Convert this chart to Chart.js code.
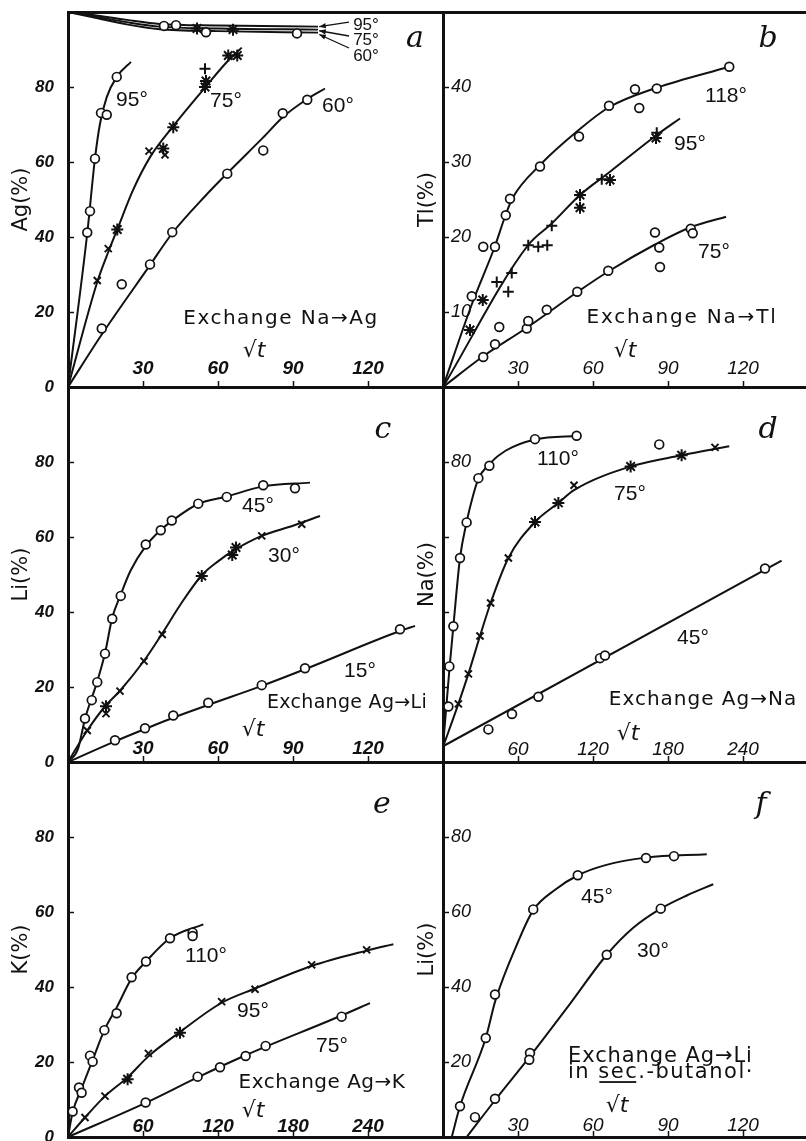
<!DOCTYPE html>
<html>
<head>
<meta charset="utf-8">
<script src="https://cdn.jsdelivr.net/npm/chart.js@4.4.1/dist/chart.umd.min.js"></script>
<style>
  html, body { margin: 0; padding: 0; background: #fff; width: 806px; height: 1141px; overflow: hidden; position: relative; }
  canvas { position: absolute; }
</style>
</head>
<body>
<script>
// ---------- panel a : exchange Na -> Ag, Ag (%) against sqrt(t) ----------
const a95_fitT = [0, 7.7, 10.8, 12.8, 15.5, 19.5, 25.2];
const a95_fitY = [0, 41, 61, 70.2, 77.3, 82.7, 86.7];
const a95_t = [7.7, 8.8, 10.8, 13.2, 15.5, 19.5];
const a95_y = [41.2, 46.9, 60.9, 73.1, 72.6, 82.7];

const a75_fitT = [0, 11.7, 16.1, 19.7, 26, 33, 42, 55, 64, 69.5];
const a75_fitY = [0, 28, 36, 42, 52.5, 61.5, 69.5, 80, 87, 90.5];
const a75_t = [11.7, 16.1, 19.7, 32.4, 38.1, 38.8, 42.1, 54.8, 55.2, 54.8, 64.1, 67.7];
const a75_y = [28.4, 36.9, 42, 62.9, 63.6, 61.9, 69.3, 80, 81.6, 84.9, 88.4, 88.4];

const a60_fitT = [0, 13.5, 32.8, 41.7, 55, 63.7, 78, 86, 95.7, 102.8];
const a60_fitY = [0, 14, 32.5, 41, 51, 57, 66.5, 72, 76.8, 79.6];
const a60_t = [13.5, 21.5, 32.8, 41.7, 63.7, 78.1, 85.9, 95.7];
const a60_y = [15.6, 27.4, 32.7, 41.3, 56.9, 63.1, 73, 76.6];

// the three curves running just under 100 %
const aTop_fitT = [0, 10, 23.5, 36.8, 60, 100];
const aTop95_fitY = [100, 99.2, 97.9, 96.8, 96.4, 96.1];
const aTop75_fitY = [100, 98.9, 97.3, 96.1, 95.6, 95.3];
const aTop60_fitY = [100, 98.6, 96.7, 95.4, 94.9, 94.5];
const aTop_t = [38.4, 43.2, 51.6, 55.2, 66, 91.6];
const aTop_y = [96.3, 96.5, 95.6, 94.6, 95.3, 94.3];

// ---------- panel b : exchange Na -> Tl, Tl (%) ----------
const b118_fitT = [0, 11.5, 20.8, 25.1, 28, 38.8, 54.4, 66.4, 85.5, 114.5];
const b118_fitY = [0, 11, 18.8, 23, 25.3, 29.6, 34.3, 37.3, 39.9, 42.7];
const b118_t = [11.5, 16.1, 20.8, 25.1, 26.8, 38.8, 54.4, 66.4, 76.8, 78.5, 85.5, 114.5];
const b118_y = [12.1, 18.7, 18.7, 22.9, 25.1, 29.4, 33.4, 37.5, 39.7, 37.2, 39.8, 42.7];

const b95_fitT = [0, 34, 43.5, 54.8, 66.8, 85.5, 94.8];
const b95_fitY = [0, 18.9, 21.8, 25.6, 28.7, 33.6, 35.8];
const b95_t = [10.8, 15.9, 21.5, 26.1, 27.5, 34.1, 38.1, 41.7, 43.5, 54.8, 54.8, 63.5, 66.8, 85.5, 85.2];
const b95_y = [7.6, 11.6, 14.0, 12.7, 15.2, 18.9, 18.7, 18.9, 21.5, 25.6, 23.9, 27.7, 27.6, 33.9, 33.2];

const b75_fitT = [0, 16.1, 33.5, 53.9, 66.1, 84.8, 99, 113.2];
const b75_fitY = [0, 4.1, 7.9, 12.7, 15.4, 19, 21.3, 22.7];
const b75_t = [16.1, 20.8, 22.5, 33.5, 34.1, 41.5, 53.7, 66.1, 84.8, 86.5, 86.8, 99.1, 99.9];
const b75_y = [4.0, 5.7, 8.0, 7.8, 8.8, 10.3, 12.7, 15.5, 20.6, 18.6, 16.0, 21.1, 20.5];

// ---------- panel c : exchange Ag -> Li, Li (%) ----------
const c45_fitT = [0, 4, 6.8, 11.7, 14.8, 17.7, 21, 25, 31, 37, 42, 52, 63.5, 78, 96.8];
const c45_fitY = [0, 3.5, 11.5, 21.5, 29, 38.5, 44.5, 51, 57.5, 61.8, 64.5, 68.8, 70.8, 73.5, 74.5];
const c45_t = [6.8, 9.5, 11.7, 14.8, 17.7, 21.1, 31.1, 37.1, 41.5, 52.1, 63.5, 78.1, 90.8];
const c45_y = [11.6, 16.5, 21.3, 28.9, 38.2, 44.3, 58, 61.8, 64.4, 68.9, 70.7, 73.8, 73];

const c30_fitT = [0, 7.7, 15, 20.8, 30.4, 37.7, 45, 53.5, 60, 66, 77.5, 90, 100.8];
const c30_fitY = [0, 8.4, 15, 19, 27, 34.3, 42, 49.8, 53.5, 56.3, 60.3, 63, 65.6];
const c30_t = [7.7, 15.2, 15.2, 20.8, 30.4, 37.7, 53.5, 65.7, 67.2, 77.5, 93.5];
const c30_y = [8.4, 14.9, 12.9, 18.9, 26.9, 34, 49.6, 55.2, 57.2, 60.3, 63.4];

const c15_fitT = [0, 18.8, 30.8, 42, 56, 77.5, 95, 133, 138.8];
const c15_fitY = [0, 5.5, 8.8, 11.8, 15.2, 20.3, 24.8, 35, 36.3];
const c15_t = [18.8, 30.8, 42.1, 56.1, 77.5, 94.8, 132.8];
const c15_y = [5.8, 9.0, 12.4, 15.8, 20.5, 25.0, 35.4];

// ---------- panel d : exchange Ag -> Na, Na (%) ----------
const d110_fitT = [0, 5.3, 8.3, 13.6, 18.9, 24, 28.3, 37.1, 50, 73.6, 109.6];
const d110_fitY = [4, 25.4, 36.2, 54.4, 64, 71, 75.5, 79.5, 83, 86, 87];
const d110_t = [4.3, 5.1, 8.3, 13.6, 18.9, 28.3, 37.1, 73.6, 106.9, 173];
const d110_y = [14.8, 25.5, 36.2, 54.4, 63.9, 75.7, 79, 86.1, 87, 84.7];

const d75_fitT = [0, 12.3, 20.3, 29.6, 38.1, 52.3, 73.6, 92.3, 104.8, 150.1, 190.9, 229];
const d75_fitY = [4, 15.5, 23.5, 33.6, 42.4, 54.4, 64, 69.1, 72.5, 78.8, 81.8, 84.2];
const d75_t = [12.3, 20.3, 29.6, 38.1, 52.3, 73.6, 92.3, 104.8, 150.1, 190.9, 217.6];
const d75_y = [15.5, 23.5, 33.6, 42.4, 54.4, 64, 69.1, 73.8, 78.8, 81.8, 83.9];

const d45_fitT = [0, 270.9];
const d45_fitY = [4.2, 53.7];
const d45_t = [36.3, 55.2, 76.3, 125.6, 129.6, 257.6];
const d45_y = [8.7, 12.8, 17.4, 27.7, 28.4, 51.6];

// ---------- panel e : exchange Ag -> K, K (%) ----------
const e110_fitT = [0, 3.7, 10.9, 19.7, 29.1, 38.9, 50.9, 62.4, 81.6, 108.3];
const e110_fitY = [0, 6.6, 13, 20.5, 28.5, 34.5, 42.3, 46.8, 53, 56.7];
const e110_t = [3.7, 8.8, 10.9, 17.6, 19.7, 29.1, 38.9, 50.9, 62.4, 81.6, 99.7, 99.7];
const e110_y = [6.8, 13.2, 11.8, 21.7, 20.1, 28.5, 33.0, 42.6, 46.8, 53.0, 54.5, 53.6];

const e95_fitT = [0, 13.6, 29.6, 47.7, 64.3, 89.6, 122.9, 149.6, 194.9, 238.9, 260.3];
const e95_fitY = [0, 5.2, 10.9, 15.9, 21.5, 28, 35.8, 39.6, 45.6, 49.7, 51.4];
const e95_t = [13.6, 29.6, 47.7, 64.3, 89.6, 122.9, 149.6, 194.9, 238.9];
const e95_y = [5.2, 10.9, 15.4, 22.3, 27.8, 36.1, 39.4, 45.9, 49.9];

const e75_fitT = [0, 62.1, 103.7, 142.1, 218.9, 241.6];
const e75_fitY = [0, 9.1, 15.9, 21.8, 32.4, 35.7];
const e75_t = [62.1, 103.7, 121.6, 142.1, 158.1, 218.9];
const e75_y = [9.2, 16.1, 18.6, 21.6, 24.3, 32.1];

// ---------- panel f : exchange Ag -> Li in sec.-butanol, Li (%) ----------
const f45_fitT = [3.5, 6.8, 17.1, 21, 30, 36.1, 45, 54, 65, 81.2, 105.5];
const f45_fitY = [0, 8.2, 26.4, 36.5, 52, 60.5, 66, 69.8, 72.5, 74.5, 75.4];
const f45_t = [6.8, 17.1, 20.8, 36.1, 53.9, 81.2, 92.4];
const f45_y = [8.2, 26.4, 38, 60.7, 69.8, 74.4, 74.9];

const f30_fitT = [9.5, 20.8, 34.8, 50.8, 65.5, 76.1, 87.1, 97.5, 108.1];
const f30_fitY = [0, 9.8, 21.5, 35.5, 48.6, 55.8, 60.9, 64.4, 67.4];
const f30_t = [12.8, 20.8, 34.8, 34.5, 65.5, 87.1];
const f30_y = [5.3, 10.2, 22.4, 20.6, 48.6, 60.9];

// ---------- drawing ----------
// every panel gets its own full-size canvas, shifted by OFF so that the
// library's label padding never pushes the plot area off its frame
const OFF = 60;
const W = 806 + 2 * OFF + 20, H = 1141 + 2 * OFF, XH = 20;
const INK = '#111';
// marker code -> [pointStyle, radius]
const SHAPE = { o: ['circle', 4.4], x: ['crossRot', 5], '+': ['cross', 5.5], '*': ['star', 6] };

const F_DEG = '21px "Liberation Sans"';
const F_DEG_S = '17px "Liberation Sans"';
const F_ROOT = 'italic 22px "DejaVu Sans"';
const F_LETTER = 'italic 30px "DejaVu Serif"';
const exch = (px) => px + 'px "DejaVu Sans"';

function pts(xs, ys) { return xs.map((x, i) => ({ x: x, y: ys[i] })); }

function series(fitT, fitY, t, y, marks) {
  return { fitT, fitY, t, y, marks };
}

function notesPlugin(notes) {
  return {
    id: 'notes',
    afterDatasetsDraw(chart) {
      const ctx = chart.ctx, sx = chart.scales.x, sy = chart.scales.y;
      ctx.save();
      ctx.fillStyle = INK; ctx.strokeStyle = INK;
      (notes.arrows || []).forEach(a => {
        const x1 = sx.getPixelForValue(a[0]), y1 = sy.getPixelForValue(a[1]);
        const x2 = sx.getPixelForValue(a[2]), y2 = sy.getPixelForValue(a[3]);
        ctx.lineWidth = 1.3;
        ctx.beginPath(); ctx.moveTo(x1, y1); ctx.lineTo(x2, y2); ctx.stroke();
        const ang = Math.atan2(y2 - y1, x2 - x1), L = 7, S = 0.38;
        ctx.beginPath();
        ctx.moveTo(x2, y2);
        ctx.lineTo(x2 - L * Math.cos(ang - S), y2 - L * Math.sin(ang - S));
        ctx.lineTo(x2 - L * Math.cos(ang + S), y2 - L * Math.sin(ang + S));
        ctx.closePath(); ctx.fill();
      });
      (notes.texts || []).forEach(n => {
        ctx.font = n.f;
        ctx.letterSpacing = (n.ls || 0) + 'px';
        ctx.textBaseline = 'alphabetic';
        let x = sx.getPixelForValue(n.t);
        const y = sy.getPixelForValue(n.v);
        if (n.parts) {
          ctx.textAlign = 'left';
          n.parts.forEach(p => {
            ctx.fillText(p[0], x, y);
            const w = ctx.measureText(p[0]).width;
            if (p[1]) ctx.fillRect(x + 1, y + 3, w - 3, 1.8);
            x += w;
          });
        } else {
          ctx.textAlign = n.align || 'center';
          ctx.fillText(n.s, x, y);
        }
      });
      ctx.letterSpacing = '0px';
      ctx.restore();
    }
  };
}

function makePanel(p) {
  const c = document.createElement('canvas');
  c.width = W; c.height = H;
  c.style.width = W + 'px'; c.style.height = H + 'px';
  c.style.left = (-OFF) + 'px'; c.style.top = (-OFF) + 'px';
  document.body.appendChild(c);

  const inner = p.inner;              // tick labels inside the frame (right-hand panels)
  const yW = inner ? 43 : 68;
  const box = p.box;
  const datasets = [];
  p.series.forEach(s => {
    if (s.fitT) {
      datasets.push({
        data: pts(s.fitT, s.fitY), showLine: true, pointRadius: 0, pointHoverRadius: 0,
        borderColor: INK, borderWidth: 2, cubicInterpolationMode: 'monotone', fill: false, order: 1
      });
    }
    const marks = (s.marks || 'o'.repeat(s.t.length)).split('');
    datasets.push({
      data: pts(s.t, s.y), showLine: false,
      pointStyle: marks.map(m => SHAPE[m][0]),
      pointRadius: marks.map(m => SHAPE[m][1]),
      pointBackgroundColor: '#fff', pointBorderColor: INK,
      pointBorderWidth: marks.map(m => m === 'o' ? 1.7 : 2),
      order: 0
    });
  });

  const tickFontX = { family: 'Liberation Sans', size: 19, style: 'italic', weight: inner ? 'normal' : 'bold' };
  const tickFontY = { family: 'Liberation Sans', size: inner ? 18 : 17, style: 'italic', weight: inner ? 'normal' : 'bold' };
  const scales = {
    x: {
      type: 'linear', position: 'bottom', min: 0, max: p.xMax,
      afterFit(s) { s.height = XH; },
      border: { display: true, color: INK, width: 3 },
      grid: { display: true, drawOnChartArea: false, drawTicks: true, tickLength: -6, tickWidth: 1.5, color: INK },
      ticks: {
        // mirrored: the labels sit just above the axis, inside the frame
        stepSize: p.xStep, autoSkip: false, maxRotation: 0, minRotation: 0, mirror: true,
        padding: p.xPad, color: INK, font: tickFontX,
        callback: v => p.xLabels.includes(v) ? String(v) : ''
      }
    },
    y: {
      type: 'linear', position: 'left', min: 0, max: p.yMax,
      afterFit(s) { s.width = yW; },
      border: { display: true, color: INK, width: 3 },
      grid: { display: true, drawOnChartArea: false, drawTicks: true, tickLength: -6, tickWidth: 1.5, color: INK },
      ticks: {
        stepSize: p.yStep, autoSkip: false, mirror: inner, padding: inner ? 8 : 20,
        color: INK, font: tickFontY,
        callback: v => p.yLabels.includes(v) ? String(v) : ''
      },
      title: { display: true, text: p.yTitle, color: INK, font: { family: 'DejaVu Sans', size: 21 }, padding: inner ? 15 : 9 }
    }
  };
  if (p.topRule) {
    scales.xt = {
      type: 'linear', position: 'top', min: 0, max: p.xMax,
      afterFit(s) { s.height = 0; },
      border: { display: true, color: INK, width: 3 },
      grid: { display: false }, ticks: { display: false }
    };
  }

  new Chart(c, {
    type: 'scatter',
    data: { datasets },
    options: {
      responsive: false, animation: false, devicePixelRatio: 1,
      events: [],
      layout: {
        padding: {
          left: box.l + OFF - yW,
          top: box.t + OFF,
          right: W - (box.r + OFF),
          bottom: H - (box.b + OFF) - XH
        }
      },
      plugins: { legend: { display: false }, tooltip: { enabled: false } },
      scales
    },
    plugins: [notesPlugin(p.notes)]
  });
}

const PANELS = [
  { // a
    box: { l: 68, t: 12, r: 443, b: 387 }, xMax: 150, xStep: 30, xLabels: [30, 60, 90, 120], xPad: 6.5,
    yMax: 100, yStep: 20, yLabels: [0, 20, 40, 60, 80], yTitle: 'Ag(%)', topRule: true,
    series: [
      series(a95_fitT, a95_fitY, a95_t, a95_y),
      series(a75_fitT, a75_fitY, a75_t, a75_y, 'xx*x*x***+**'),
      series(a60_fitT, a60_fitY, a60_t, a60_y),
      series(aTop_fitT, aTop95_fitY, [], []),
      series(aTop_fitT, aTop75_fitY, [], []),
      series(aTop_fitT, aTop60_fitY, aTop_t, aTop_y, 'oo*o*o')
    ],
    notes: {
      texts: [
        { t: 25.6, v: 74.9, s: '95°', f: F_DEG },
        { t: 63.2, v: 74.7, s: '75°', f: F_DEG },
        { t: 108, v: 73.4, s: '60°', f: F_DEG },
        { t: 119.2, v: 95.2, s: '95°', f: F_DEG_S },
        { t: 119.2, v: 91.2, s: '75°', f: F_DEG_S },
        { t: 119.2, v: 86.9, s: '60°', f: F_DEG_S },
        { t: 138.8, v: 90.7, s: 'a', f: F_LETTER },
        { t: 85.2, v: 16.8, s: 'Exchange Na→Ag', f: exch(20), ls: 1.5 },
        { t: 74.4, v: 8.1, s: '√t', f: F_ROOT }
      ],
      arrows: [[112.4, 97.3, 100.5, 96.1], [112.4, 93.6, 100.5, 95.0], [112.4, 90.4, 100.5, 94.0]]
    }
  },
  { // b
    box: { l: 443, t: 12, r: 818, b: 387 }, inner: true, xMax: 150, xStep: 30, xLabels: [30, 60, 90, 120], xPad: 6.5,
    yMax: 50, yStep: 10, yLabels: [10, 20, 30, 40], yTitle: 'Tl(%)', topRule: true,
    series: [
      series(b118_fitT, b118_fitY, b118_t, b118_y),
      series(b95_fitT, b95_fitY, b95_t, b95_y, '**+++++++**+*+*'),
      series(b75_fitT, b75_fitY, b75_t, b75_y)
    ],
    notes: {
      texts: [
        { t: 113.2, v: 38.0, s: '118°', f: F_DEG },
        { t: 98.8, v: 31.6, s: '95°', f: F_DEG },
        { t: 108.4, v: 17.2, s: '75°', f: F_DEG },
        { t: 130, v: 45.4, s: 'b', f: F_LETTER },
        { t: 95.6, v: 8.5, s: 'Exchange Na→Tl', f: exch(20), ls: 1.8 },
        { t: 72.8, v: 4.0, s: '√t', f: F_ROOT }
      ]
    }
  },
  { // c
    box: { l: 68, t: 387, r: 443, b: 762 }, xMax: 150, xStep: 30, xLabels: [30, 60, 90, 120], xPad: 1.5,
    yMax: 100, yStep: 20, yLabels: [0, 20, 40, 60, 80], yTitle: 'Li(%)',
    series: [
      series(c45_fitT, c45_fitY, c45_t, c45_y),
      series(c30_fitT, c30_fitY, c30_t, c30_y, 'x*xxxx***xx'),
      series(c15_fitT, c15_fitY, c15_t, c15_y)
    ],
    notes: {
      texts: [
        { t: 76, v: 66.7, s: '45°', f: F_DEG },
        { t: 86.4, v: 53.4, s: '30°', f: F_DEG },
        { t: 116.8, v: 22.7, s: '15°', f: F_DEG },
        { t: 126, v: 86.3, s: 'c', f: F_LETTER },
        { t: 111.6, v: 14.3, s: 'Exchange Ag→Li', f: exch(19), ls: 0.3 },
        { t: 74, v: 6.9, s: '√t', f: F_ROOT }
      ]
    }
  },
  { // d
    box: { l: 443, t: 387, r: 818, b: 762 }, inner: true, xMax: 300, xStep: 60, xLabels: [60, 120, 180, 240], xPad: 0.5,
    yMax: 100, yStep: 20, yLabels: [80], yTitle: 'Na(%)',
    series: [
      series(d110_fitT, d110_fitY, d110_t, d110_y),
      series(d75_fitT, d75_fitY, d75_t, d75_y, 'xxxxx**x**x'),
      series(d45_fitT, d45_fitY, d45_t, d45_y)
    ],
    notes: {
      texts: [
        { t: 92, v: 79.2, s: '110°', f: F_DEG },
        { t: 149.6, v: 69.9, s: '75°', f: F_DEG },
        { t: 200, v: 31.6, s: '45°', f: F_DEG },
        { t: 260, v: 86.3, s: 'd', f: F_LETTER },
        { t: 208, v: 15.2, s: 'Exchange Ag→Na', f: exch(20), ls: 1 },
        { t: 148, v: 5.9, s: '√t', f: F_ROOT }
      ]
    }
  },
  { // e
    box: { l: 68, t: 762, r: 443, b: 1137 }, xMax: 300, xStep: 60, xLabels: [60, 120, 180, 240], xPad: -1.5,
    yMax: 100, yStep: 20, yLabels: [0, 20, 40, 60, 80], yTitle: 'K(%)',
    series: [
      series(e110_fitT, e110_fitY, e110_t, e110_y),
      series(e95_fitT, e95_fitY, e95_t, e95_y, 'xx*x*xxxx'),
      series(e75_fitT, e75_fitY, e75_t, e75_y)
    ],
    notes: {
      texts: [
        { t: 110.4, v: 46.7, s: '110°', f: F_DEG },
        { t: 148, v: 32.1, s: '95°', f: F_DEG },
        { t: 211.2, v: 22.7, s: '75°', f: F_DEG },
        { t: 251.2, v: 86.3, s: 'e', f: F_LETTER },
        { t: 203.2, v: 13, s: 'Exchange Ag→K', f: exch(20), ls: 0.5 },
        { t: 148, v: 5.4, s: '√t', f: F_ROOT }
      ]
    }
  },
  { // f
    box: { l: 443, t: 762, r: 818, b: 1137 }, inner: true, xMax: 150, xStep: 30, xLabels: [30, 60, 90, 120], xPad: -0.5,
    yMax: 100, yStep: 20, yLabels: [20, 40, 60, 80], yTitle: 'Li(%)',
    series: [
      series(f45_fitT, f45_fitY, f45_t, f45_y),
      series(f30_fitT, f30_fitY, f30_t, f30_y)
    ],
    notes: {
      texts: [
        { t: 61.6, v: 62.3, s: '45°', f: F_DEG },
        { t: 84, v: 48.1, s: '30°', f: F_DEG },
        { t: 127.2, v: 86.4, s: 'f', f: F_LETTER },
        { t: 50, v: 20, s: 'Exchange Ag→Li', f: exch(21), ls: 0.9, align: 'left' },
        { t: 50, v: 15.7, f: exch(21), ls: 1.5, parts: [['in ', false], ['sec', true], ['.-butanol·', false]] },
        { t: 69.6, v: 6.7, s: '√t', f: F_ROOT }
      ]
    }
  }
];

PANELS.forEach(makePanel);
</script>
</body>
</html>
